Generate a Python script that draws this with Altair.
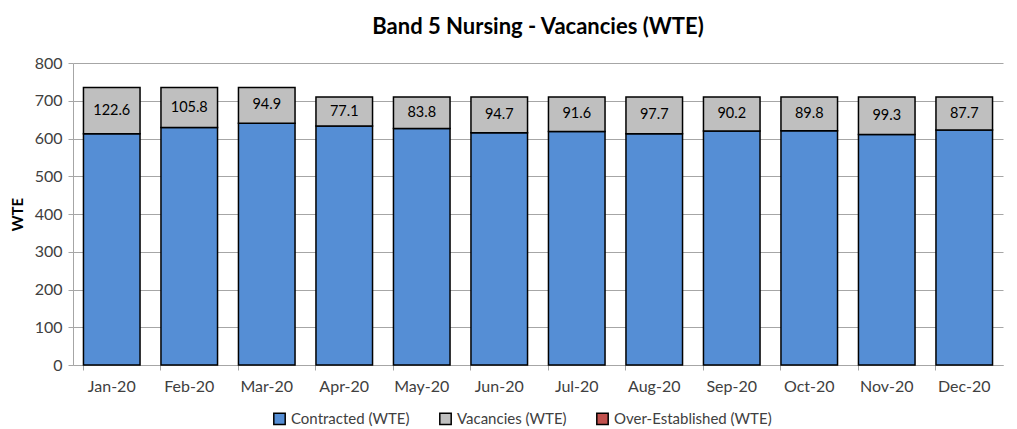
import altair as alt
import pandas as pd

months = ["Jan-20", "Feb-20", "Mar-20", "Apr-20", "May-20", "Jun-20",
          "Jul-20", "Aug-20", "Sep-20", "Oct-20", "Nov-20", "Dec-20"]
contracted = [612.4, 629.2, 640.1, 632.9, 626.2, 615.3, 618.4, 612.3, 619.8, 620.2, 610.7, 622.3]
vacancies = [122.6, 105.8, 94.9, 77.1, 83.8, 94.7, 91.6, 97.7, 90.2, 89.8, 99.3, 87.7]
series = ["Contracted (WTE)", "Vacancies (WTE)", "Over-Established (WTE)"]
colors = ["#558ED5", "#BFBFBF", "#C0504D"]
y_ticks = [0, 100, 200, 300, 400, 500, 600, 700, 800]

rows = []
for m, c, v in zip(months, contracted, vacancies):
    rows.append({"month": m, "series": series[0], "value": c, "ord": 0})
    rows.append({"month": m, "series": series[1], "value": v, "ord": 1})
df = pd.DataFrame(rows)
lab = pd.DataFrame({"month": months, "c": contracted, "v": vacancies})

FONT = "Lato"

x = alt.X("month:N", sort=months,
          scale=alt.Scale(paddingInner=0.27, paddingOuter=0.135),
          axis=alt.Axis(title=None, labelAngle=0, bandPosition=0, tickSize=5,
                        labelPadding=8, domainColor="#A6A6A6", tickColor="#A6A6A6",
                        labelFontSize=16, labelColor="#404040", labelFont=FONT))

y_axis = alt.Axis(values=y_ticks, title="WTE", titleFont=FONT, titleFontSize=15,
                  titleFontWeight="bold", titleColor="black", titlePadding=9,
                  labelFont=FONT, labelFontSize=16, labelColor="#404040",
                  tickSize=5, labelPadding=6, domainColor="#A6A6A6",
                  tickColor="#A6A6A6", gridColor="#A6A6A6", grid=True,
                  labelOverlap=False)

bars = alt.Chart(df).mark_bar(stroke="black", strokeWidth=1.5).encode(
    x=x,
    y=alt.Y("value:Q", stack="zero", scale=alt.Scale(domain=[0, 800]), axis=y_axis),
    color=alt.Color("series:N", scale=alt.Scale(domain=series, range=colors),
                    legend=alt.Legend(orient="none", legendX=199, legendY=348,
                                      direction="horizontal", title=None,
                                      symbolType="square", symbolStrokeColor="black",
                                      symbolStrokeWidth=1.5, symbolSize=130,
                                      labelFont=FONT, labelFontSize=15, labelColor="#404040",
                                      labelOffset=4, columnPadding=26, labelLimit=300)),
    order=alt.Order("ord:Q"),
)

text = alt.Chart(lab).mark_text(font=FONT, fontSize=14.5, color="black").transform_calculate(
    mid="datum.c + datum.v / 2"
).encode(
    x=alt.X("month:N", sort=months),
    y=alt.Y("mid:Q", scale=alt.Scale(domain=[0, 800]), axis=y_axis),
    text=alt.Text("v:Q", format=".1f"),
)

chart = alt.layer(bars, text).properties(
    width=930, height=302,
    title=alt.TitleParams("Band 5 Nursing - Vacancies (WTE)", font=FONT, fontSize=22,
                          fontWeight="bold", color="black", anchor="middle", offset=16),
    autosize=alt.AutoSizeParams(type="none"),
    padding={"left": 65, "top": 55, "right": 6, "bottom": 64},
).configure_view(stroke=None)

chart.save("out.html", embed_options={"renderer": "svg", "actions": False})
